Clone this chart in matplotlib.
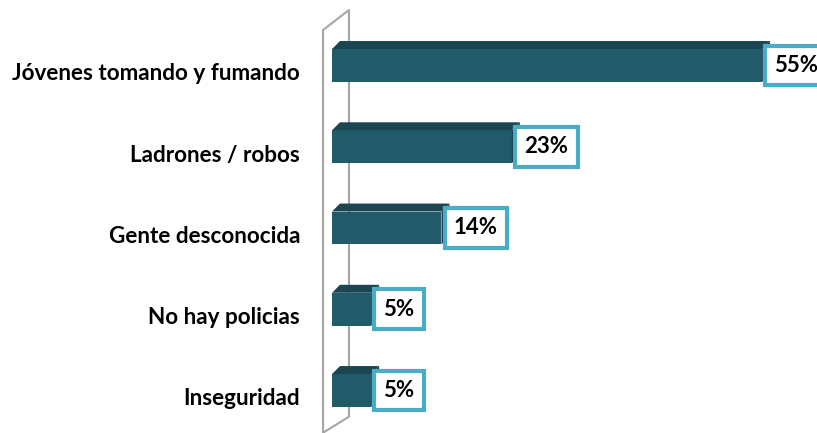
import matplotlib.pyplot as plt
from matplotlib.patches import Polygon

# datos de la gráfica
categorias = ['Jóvenes tomando y fumando', 'Ladrones / robos', 'Gente desconocida',
              'No hay policias', 'Inseguridad']
valores = [55, 23, 14, 5, 5]
etiquetas = ['55%', '23%', '14%', '5%', '5%']

plt.rcParams['font.family'] = ['Lato', 'DejaVu Sans']

frente = '#215a68'
arriba = '#1b4651'
lado = '#163c46'
borde_caja = '#4bacc6'

fig = plt.figure(figsize=(8.17, 4.33), dpi=100)
ax = fig.add_axes([0, 0, 1, 1])
ax.set_xlim(-42.46, 62.02)
ax.set_ylim(4.523, -0.806)
ax.axis('off')

alto = 0.406
dx = 1.02   # profundidad en x
dy = 0.098  # profundidad en y

# pared del fondo
ax.plot([-1.15, -1.15, 2.17, 2.17, -1.15, -1.15],
        [4.6, -0.437, -0.683, 4.322, 4.52, 4.6],
        color='#a6a6a6', lw=1.5, zorder=1, clip_on=False)

y = list(range(len(categorias)))
ax.barh(y, valores, height=alto, color=frente, zorder=3)

for i, v in enumerate(valores):
    sup = i - alto / 2
    inf = i + alto / 2
    # cara superior
    ax.add_patch(Polygon([(0, sup), (dx, sup - dy), (v + dx, sup - dy), (v, sup)],
                         closed=True, fc=arriba, ec='none', zorder=3))
    # cara lateral
    ax.add_patch(Polygon([(v, sup), (v + dx, sup - dy), (v + dx, inf - dy), (v, inf)],
                         closed=True, fc=lado, ec='none', zorder=3))
    # etiqueta de la categoría
    ax.annotate(categorias[i], (0, i), xytext=(-23, -6), textcoords='offset points',
                ha='right', va='center', fontsize=16.2, fontweight='bold', color='black')
    # caja con el porcentaje
    ax.annotate(etiquetas[i], (v + dx, i), xytext=(3.2, 0), textcoords='offset points',
                ha='left', va='center', fontsize=16, fontweight='bold', color='black',
                bbox=dict(boxstyle='square,pad=0.42', fc='white', ec=borde_caja, lw=3),
                zorder=5, annotation_clip=False)

fig.savefig('out.png', dpi=100)
